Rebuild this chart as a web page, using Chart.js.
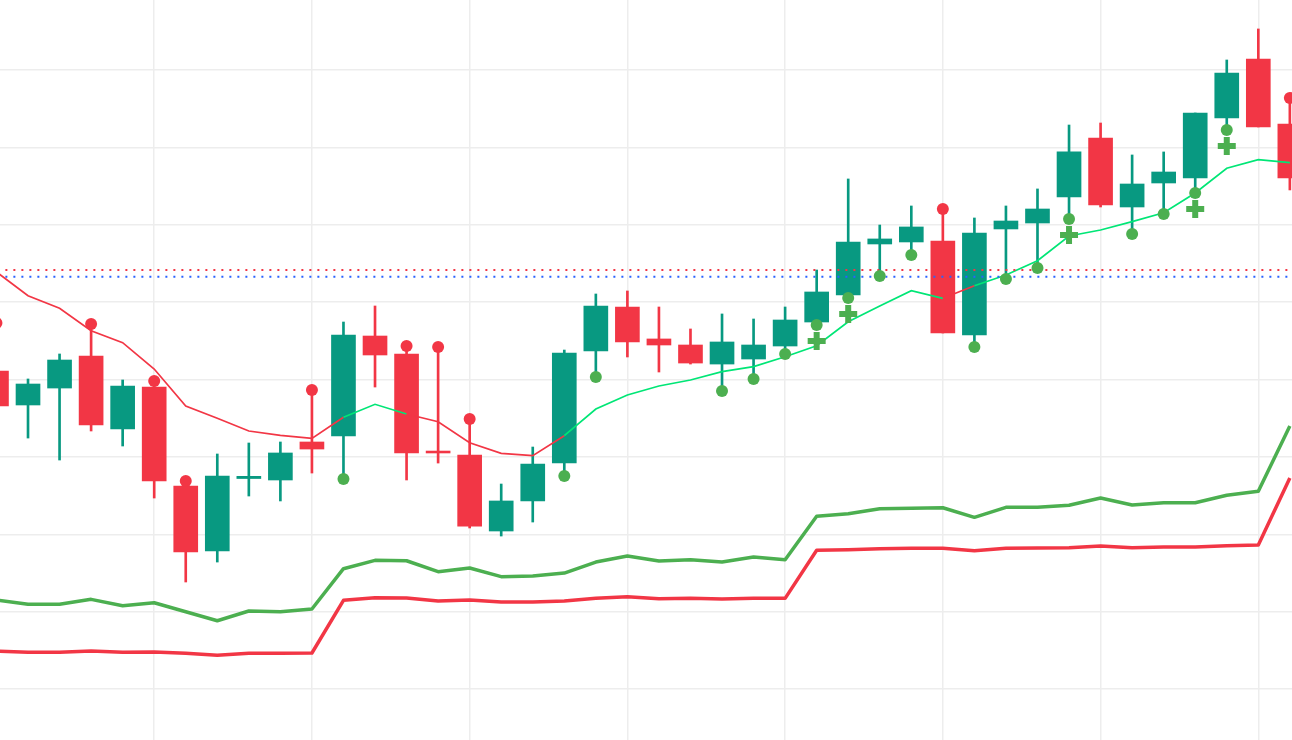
<!DOCTYPE html>
<html>
<head>
<meta charset="utf-8">
<script src="https://cdn.jsdelivr.net/npm/chart.js@4.4.0/dist/chart.umd.min.js"></script>
<style>
  html,body{margin:0;padding:0;background:#fff;overflow:hidden;}
  #wrap{width:1292px;height:740px;position:relative;}
</style>
</head>
<body>
<div id="wrap"><canvas id="chart"></canvas></div>
<script>
/* candle chart with trend line, markers and two bands
   one entry per bar, price units */
const opens  = [161.11,156.72,158.91,163.05,153.62,159.04,146.25,137.86,147.22,147.03,
                151.94,152.71,165.63,163.31,150.77,150.26,140.44,144.32,149.22,163.70,
                169.38,165.25,164.47,162.01,162.66,164.34,167.44,170.93,177.52,177.78,
                177.91,165.76,179.46,180.23,183.59,191.21,182.30,185.40,186.05,193.80,
                201.42,193.02];
const highs  = [166.92,160.08,163.31,166.92,159.95,159.56,146.64,150.39,151.81,151.94,
                158.40,167.44,169.51,164.08,163.95,154.65,146.51,151.29,163.82,171.06,
                171.45,169.38,166.54,168.48,167.83,169.38,174.16,185.92,179.97,182.43,
                181.78,180.88,182.43,184.63,192.89,193.15,189.02,189.41,194.44,201.29,
                205.30,196.12];
const lows   = [155.81,152.45,149.61,153.36,151.42,144.70,133.85,136.43,144.96,144.32,
                147.93,147.80,159.04,147.03,149.22,140.83,139.79,141.60,148.06,160.72,
                162.92,160.98,162.01,158.91,160.34,163.57,167.31,170.80,173.64,176.36,
                166.02,164.47,173.25,174.68,181.01,182.30,179.07,181.65,184.37,192.51,
                192.64,184.50];
const closes = [156.59,159.43,162.53,154.13,159.17,146.90,137.73,147.54,147.50,150.52,
                151.03,165.76,163.18,150.52,150.52,141.08,144.32,149.09,163.44,169.51,
                164.86,164.47,162.14,164.86,164.47,167.70,171.32,177.78,178.17,179.72,
                166.02,178.94,180.49,182.04,189.41,182.56,185.27,186.82,194.44,199.61,
                192.64,186.05];

// trailing stop line + its direction (1 up, -1 down)
const trendLine = [173.90,170.84,169.21,166.32,164.77,161.37,156.59,155.00,153.36,152.80,
                   152.41,155.13,156.81,155.56,154.56,151.85,150.48,150.17,152.75,156.20,
                   158.01,159.17,159.95,161.02,161.67,162.96,164.38,167.48,169.51,171.48,
                   170.50,172.13,173.51,175.36,178.55,179.33,180.40,181.56,184.11,187.30,
                   188.41,188.02];
const trendDir = [-1,-1,-1,-1,-1,-1,-1,-1,-1,-1,-1, 1,1, -1,-1,-1,-1,-1,
                  1,1,1,1,1,1,1,1,1,1,1,1, -1, 1,1,1,1,1,1,1,1,1,1,1];

// lower panel bands
const upperBand = [131.52,130.97,130.97,131.61,130.79,131.17,130.01,128.85,130.10,130.01,
                   130.36,135.57,136.65,136.60,135.18,135.66,134.54,134.63,135.01,136.43,
                   137.21,136.56,136.73,136.43,137.08,136.73,142.34,142.68,143.32,143.37,
                   143.45,142.21,143.50,143.50,143.76,144.70,143.80,144.10,144.10,145.05,
                   145.57,154.00];
const lowerBand = [124.94,124.77,124.77,124.94,124.77,124.81,124.64,124.38,124.64,124.64,
                   124.68,131.48,131.82,131.78,131.39,131.52,131.26,131.26,131.39,131.74,
                   131.95,131.69,131.74,131.65,131.74,131.74,137.95,138.02,138.15,138.20,
                   138.20,137.89,138.20,138.24,138.28,138.50,138.28,138.37,138.37,138.54,
                   138.63,147.29];

// markers
const sellAt   = [0,3,5,6,10,13,14,15,30,41];
const sellVals = [167.31,167.18,159.82,146.90,158.66,164.34,164.21,154.91,182.04,196.38];
const buyAt    = [11,18,19,23,24,25,26,27,28,29,31,32,33,34,36,37,38,39];
const buyVals  = [147.16,147.54,160.34,158.53,160.08,163.31,167.05,170.54,173.38,176.10,
                  164.21,173.00,174.42,180.75,178.81,181.40,184.11,192.25];
const crossAt   = [26,27,34,38,39];
const crossVals = [164.99,168.48,178.68,182.04,190.18];

// horizontal levels
const levelRed  = 174.16;
const levelBlue = 173.29;

// grid positions
const gridX = [5,10,15,20,25,30,35,40];
const gridY = [120,130,140,150,160,170,180,190,200];

const UP = "#089981", DOWN = "#f23645", GREEN = "#4caf50", LIME = "#00e676", BLUE = "#2962ff";

const idx = opens.map((_, i) => i);
const candleColor = idx.map(i => closes[i] >= opens[i] ? UP : DOWN);

const pts = (xs, ys) => xs.map((x, k) => ({x, y: ys[k]}));

const datasets = [
  { type:"scatter", data: pts(crossAt, crossVals), pointStyle:"cross", pointRadius:9,
    borderColor: GREEN, borderWidth:6, order:0 },
  { type:"scatter", data: pts(sellAt, sellVals), pointRadius:6, backgroundColor: DOWN, borderWidth:0, order:1 },
  { type:"scatter", data: pts(buyAt, buyVals), pointRadius:6, backgroundColor: GREEN, borderWidth:0, order:1 },
  { type:"line", data: [{x:-2, y:levelRed}, {x:44, y:levelRed}], borderColor: DOWN, borderWidth:2,
    borderDash:[2,6], pointRadius:0, order:2 },
  { type:"line", data: [{x:-2, y:levelBlue}, {x:44, y:levelBlue}], borderColor: BLUE, borderWidth:2,
    borderDash:[2,6], pointRadius:0, order:2 },
  { type:"line", data: pts(idx, trendLine), borderWidth:1.7, pointRadius:0, tension:0,
    borderColor: LIME,
    segment: { borderColor: ctx => trendDir[ctx.p0DataIndex] > 0 ? LIME : DOWN },
    order:3 },
  { type:"line", data: pts(idx, upperBand), borderColor: GREEN, borderWidth:3.5, pointRadius:0,
    borderJoinStyle:"round", order:3 },
  { type:"line", data: pts(idx, lowerBand), borderColor: DOWN, borderWidth:3.5, pointRadius:0,
    borderJoinStyle:"round", order:3 },
  { type:"bar", data: idx.map(i => ({x:i, y:[opens[i], closes[i]]})), backgroundColor: candleColor,
    grouped:false, barThickness:24, maxBarThickness:24, order:5 },
  { type:"bar", data: idx.map(i => ({x:i, y:[lows[i], highs[i]]})), backgroundColor: candleColor,
    grouped:false, barThickness:2, maxBarThickness:2, order:6 },
];

const axisBase = {
  display: true,
  offset: false,
  border: { display: false },
  ticks: { display: false },
  grid: { color: "#ededed", lineWidth: 1.5, drawTicks: false, offset: false },
};

new Chart(document.getElementById("chart"), {
  type: "bar",
  data: { datasets },
  options: {
    responsive: true,
    maintainAspectRatio: false,
    animation: false,
    events: [],
    layout: { padding: 0, autoPadding: false },
    plugins: { legend: { display: false }, tooltip: { enabled: false } },
    scales: {
      x: { ...axisBase, type: "linear", min: 0.112, max: 41.068,
           afterBuildTicks: s => { s.ticks = gridX.map(v => ({value: v})); } },
      y: { ...axisBase, type: "linear", beginAtZero: false, min: 113.44, max: 209.04,
           afterBuildTicks: s => { s.ticks = gridY.map(v => ({value: v})); } },
    }
  }
});
</script>
</body>
</html>
